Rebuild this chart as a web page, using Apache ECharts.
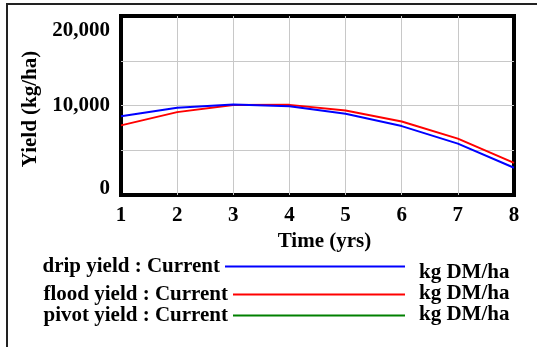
<!DOCTYPE html>
<html>
<head>
<meta charset="utf-8">
<script src="https://cdn.jsdelivr.net/npm/echarts@6/dist/echarts.min.js"></script>
<style>
  html, body { margin: 0; padding: 0; background: #fff; }
  #chart { width: 537px; height: 347px; }
</style>
</head>
<body>
<div id="chart"></div>
<script>
// years on the x axis
const xCategories = ["1", "2", "3", "4", "5", "6", "7", "8"];

// yield values (kg DM/ha)
const dripYield = [8800, 9750, 10100, 9920, 9070, 7700, 5740, 3040];
const floodYield = [7780, 9260, 10050, 10070, 9440, 8220, 6300, 3590];
const pivotYield = []; // not drawn in the plot

const seriesNames = ["drip yield : Current", "flood yield : Current", "pivot yield : Current"];
const seriesColors = ["#0000ff", "#ff0000", "#008000"];
const legendUnits = ["kg DM/ha", "kg DM/ha", "kg DM/ha"];

const yTickValues = [0, 10000, 20000];
const yTickLabels = ["0", "10,000", "20,000"];

const font = "Liberation Serif";
const fs = 21;

const chart = echarts.init(document.getElementById("chart"), null, { renderer: "canvas" });

const legendTops = [256, 284, 305];
const legendWidths = [180, 172, 172];
const unitY = [274, 295, 316];

const option = {
  animation: false,
  grid: {
    left: 121, right: 23, top: 16, bottom: 152,
    show: true, borderColor: "#000", borderWidth: 4
  },
  xAxis: {
    type: "category",
    data: xCategories,
    boundaryGap: false,
    name: "Time (yrs)",
    nameLocation: "middle",
    nameGap: 28,
    nameTextStyle: { fontFamily: font, fontWeight: "bold", fontSize: fs, color: "#000", padding: [0, 0, 0, 14] },
    axisLine: { show: false },
    axisTick: { show: false },
    axisLabel: { fontFamily: font, fontWeight: "bold", fontSize: fs, color: "#000", margin: 10, interval: 0 },
    splitLine: { show: true, interval: 0, showMinLine: false, showMaxLine: false, lineStyle: { color: "#c8c8c8", width: 1 } }
  },
  yAxis: {
    type: "value",
    min: 0, max: 20000, interval: 5000,
    name: "Yield (kg/ha)",
    nameLocation: "middle",
    nameRotate: 90,
    nameGap: 77,
    nameTextStyle: { fontFamily: font, fontWeight: "bold", fontSize: fs, color: "#000", padding: [0, 7, 0, 0] },
    axisLine: { show: false },
    axisTick: { show: false },
    axisLabel: {
      margin: 11,
      formatter: function (v) {
        const i = yTickValues.indexOf(v);
        if (i < 0) return "";
        const style = i === 0 ? "bot" : (i === yTickValues.length - 1 ? "top" : "mid");
        return "{" + style + "|" + yTickLabels[i] + "}";
      },
      rich: {
        top: { fontFamily: font, fontWeight: "bold", fontSize: fs, color: "#000", padding: [30, 0, 0, 0] },
        mid: { fontFamily: font, fontWeight: "bold", fontSize: fs, color: "#000" },
        bot: { fontFamily: font, fontWeight: "bold", fontSize: fs, color: "#000", padding: [0, 0, 12, 0] }
      }
    },
    splitLine: { show: true, showMinLine: false, showMaxLine: false, lineStyle: { color: "#c8c8c8", width: 1 } }
  },
  legend: seriesNames.map((name, i) => ({
    data: [name],
    right: 537 - 405,
    top: legendTops[i],
    align: "right",
    padding: 0,
    icon: "rect",
    itemWidth: legendWidths[i],
    itemHeight: 2,
    textStyle: { fontFamily: font, fontWeight: "bold", fontSize: fs, color: "#000" },
    selectedMode: false
  })),
  graphic: [
    {
      type: "rect",
      shape: { x: 7, y: 4, width: 700, height: 500 },
      style: { fill: "none", stroke: "#222", lineWidth: 2 },
      silent: true
    }
  ].concat(legendUnits.map((u, i) => ({
    type: "text",
    left: 419,
    top: unitY[i] - 12,
    style: { text: u, font: "bold " + fs + "px '" + font + "'", fill: "#000" }
  }))),
  series: [
    { name: seriesNames[1], type: "line", data: floodYield, showSymbol: false, lineStyle: { width: 2, color: seriesColors[1] }, itemStyle: { color: seriesColors[1] }, z: 2 },
    { name: seriesNames[0], type: "line", data: dripYield, showSymbol: false, lineStyle: { width: 2, color: seriesColors[0] }, itemStyle: { color: seriesColors[0] }, z: 3 },
    { name: seriesNames[2], type: "line", data: pivotYield, showSymbol: false, lineStyle: { width: 2, color: seriesColors[2] }, itemStyle: { color: seriesColors[2] }, z: 2 }
  ]
};

chart.setOption(option);
</script>
</body>
</html>
